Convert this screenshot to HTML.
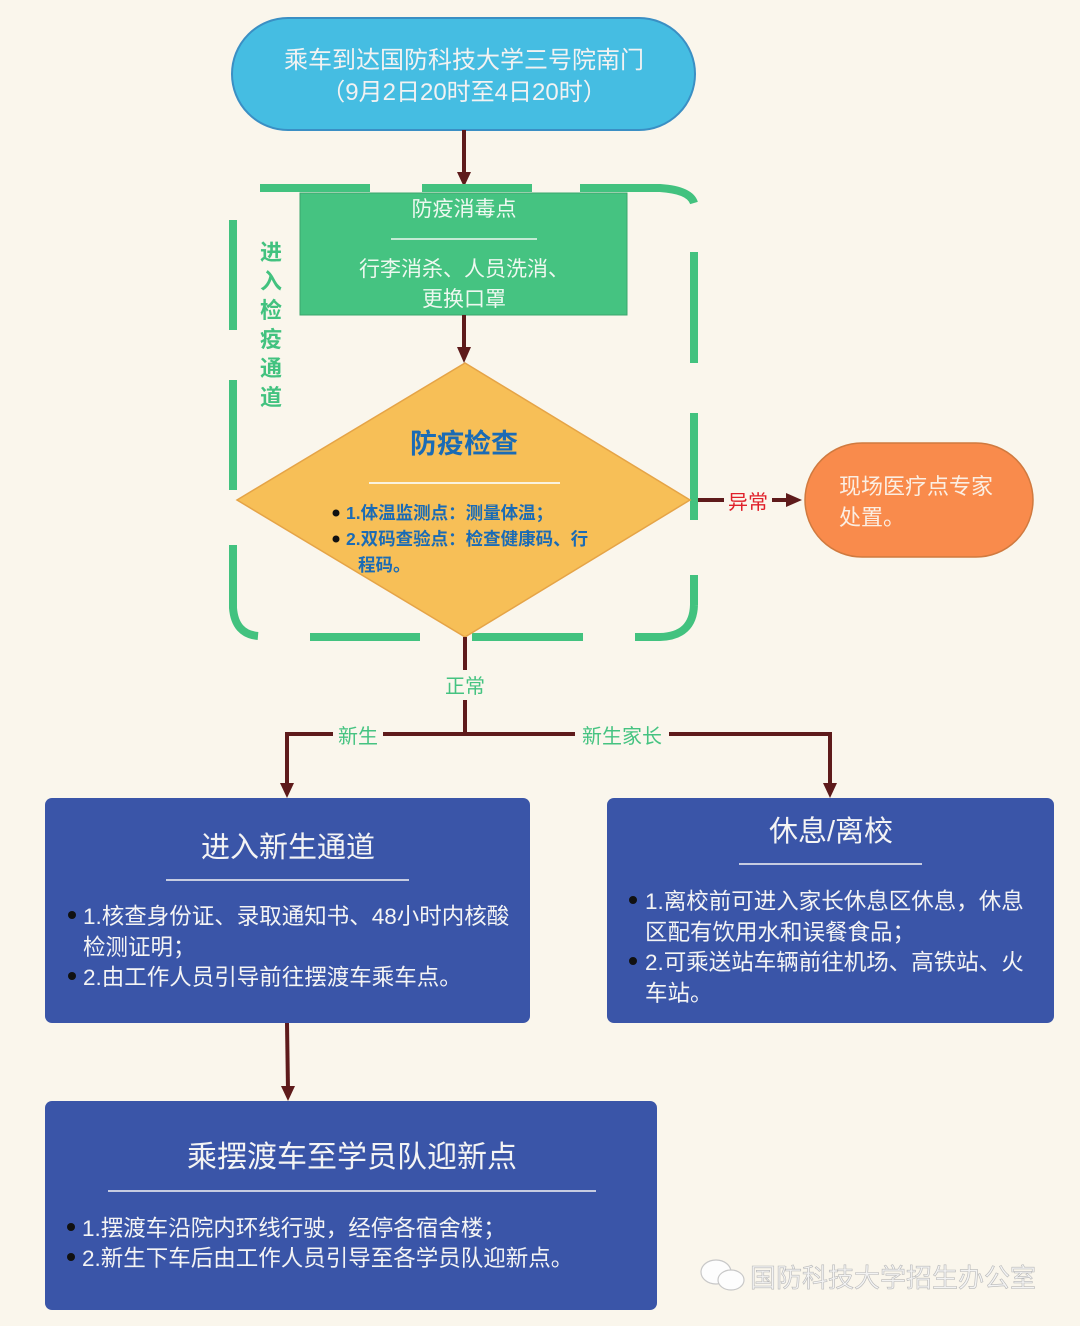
<!DOCTYPE html>
<html><head><meta charset="utf-8"><style>
html,body{margin:0;padding:0;background:#faf6ec;}
svg{display:block;}
text{font-family:"Liberation Sans","Noto Sans CJK SC",sans-serif;}
</style></head><body>
<svg width="1080" height="1326" viewBox="0 0 1080 1326" xmlns="http://www.w3.org/2000/svg">
<rect width="1080" height="1326" fill="#faf6ec"/>
<!-- top stadium -->
<rect x="232" y="18" width="463" height="112" rx="56" fill="#45bde2" stroke="#3a8fc4" stroke-width="2"/>
<text x="464" y="68" text-anchor="middle" font-size="24" fill="#f2f2f2">乘车到达国防科技大学三号院南门</text>
<text x="464" y="100" text-anchor="middle" font-size="24" fill="#f2f2f2">（9月2日20时至4日20时）</text>
<line x1="464" y1="130" x2="464" y2="176" stroke="#5e1b1b" stroke-width="4"/>
<path d="M457,172 L464,187 L471,172 Z" fill="#5e1b1b"/>
<!-- dashed boundary -->
<g stroke="#42c27f" stroke-width="8" fill="none">
<path d="M260,188 H370 M422,188 H532 M580,188 H660 Q690,190 694,203"/>
<path d="M233,220 V330 M233,380 V490 M233,545 V608 Q235,634 258,636"/>
<path d="M310,637 H420 M472,637 H583 M635,637 H660 Q693,636 694,605"/>
<path d="M694,252 V363 M694,413 V520 M694,575 V605"/>
</g>
<!-- green rect -->
<rect x="300" y="193" width="327" height="122" fill="#45c381" stroke="#3aa56d" stroke-width="1"/>
<text x="464" y="216" text-anchor="middle" font-size="21" fill="#eef8f0">防疫消毒点</text>
<line x1="391" y1="239" x2="537" y2="239" stroke="#eef8f0" stroke-width="1.5"/>
<text x="464" y="276" text-anchor="middle" font-size="21" fill="#eef8f0">行李消杀、人员洗消、</text>
<text x="464" y="306" text-anchor="middle" font-size="21" fill="#eef8f0">更换口罩</text>
<text font-size="22" fill="#42c27f" font-weight="bold" text-anchor="middle">
<tspan x="271" y="260">进</tspan><tspan x="271" y="289">入</tspan><tspan x="271" y="318">检</tspan><tspan x="271" y="347">疫</tspan><tspan x="271" y="376">通</tspan><tspan x="271" y="405">道</tspan></text>
<line x1="464" y1="315" x2="464" y2="350" stroke="#5e1b1b" stroke-width="4"/>
<path d="M457,347 L464,363 L471,347 Z" fill="#5e1b1b"/>
<!-- diamond -->
<polygon points="465,363 690,500 465,637 237,500" fill="#f7bf57" stroke="#e5a447" stroke-width="1.5"/>
<text x="464" y="453" text-anchor="middle" font-size="27" font-weight="bold" fill="#1a6bb5">防疫检查</text>
<line x1="369" y1="483" x2="560" y2="483" stroke="#faf3e0" stroke-width="2"/>
<g font-size="17.5" font-weight="bold" fill="#1a6bb5">
<circle cx="336" cy="513" r="3.5" fill="#111"/>
<text x="346" y="519">1.体温监测点：测量体温；</text>
<circle cx="336" cy="539" r="3.5" fill="#111"/>
<text x="346" y="545">2.双码查验点：检查健康码、行</text>
<text x="358" y="571">程码。</text>
</g>
<!-- abnormal -->
<line x1="698" y1="500" x2="790" y2="500" stroke="#5e1b1b" stroke-width="4"/>
<path d="M786,493 L802,500 L786,507 Z" fill="#5e1b1b"/>
<rect x="724" y="487" width="48" height="26" fill="#faf6ec"/>
<text x="748" y="509" text-anchor="middle" font-size="20" fill="#e0202a">异常</text>
<rect x="805" y="443" width="228" height="114" rx="57" fill="#f98b4c" stroke="#d07a3f" stroke-width="1.5"/>
<text x="839" y="494" font-size="22" fill="#fbeee2">现场医疗点专家</text>
<text x="839" y="525" font-size="22" fill="#fbeee2">处置。</text>
<!-- normal branch -->
<line x1="465" y1="637" x2="465" y2="734" stroke="#5e1b1b" stroke-width="4"/>
<rect x="440" y="670" width="50" height="30" fill="#faf6ec"/>
<text x="465" y="693" text-anchor="middle" font-size="20" fill="#45c381">正常</text>
<path d="M287,790 V734 H830 V790" stroke="#5e1b1b" stroke-width="4" fill="none"/>
<path d="M280,783 L287,798 L294,783 Z M823,783 L830,798 L837,783 Z" fill="#5e1b1b"/>
<rect x="333" y="722" width="50" height="26" fill="#faf6ec"/>
<text x="358" y="743" text-anchor="middle" font-size="20" fill="#45c381">新生</text>
<rect x="575" y="722" width="94" height="26" fill="#faf6ec"/>
<text x="622" y="743" text-anchor="middle" font-size="20" fill="#45c381">新生家长</text>
<!-- box1 -->
<rect x="45" y="798" width="485" height="225" rx="7" fill="#3a55a8"/>
<text x="288" y="857" text-anchor="middle" font-size="29" fill="#f4f4f4">进入新生通道</text>
<line x1="166" y1="880" x2="409" y2="880" stroke="#f4f4f4" stroke-width="1.5"/>
<g font-size="22.5" fill="#f4f4f4">
<circle cx="72" cy="915" r="4" fill="#111"/>
<text x="83" y="924">1.核查身份证、录取通知书、48小时内核酸</text>
<text x="83" y="955">检测证明；</text>
<circle cx="72" cy="976" r="4" fill="#111"/>
<text x="83" y="985">2.由工作人员引导前往摆渡车乘车点。</text>
</g>
<!-- box2 -->
<rect x="607" y="798" width="447" height="225" rx="7" fill="#3a55a8"/>
<text x="831" y="841" text-anchor="middle" font-size="29" fill="#f4f4f4">休息/离校</text>
<line x1="739" y1="864" x2="922" y2="864" stroke="#f4f4f4" stroke-width="1.5"/>
<g font-size="22.5" fill="#f4f4f4">
<circle cx="633" cy="900" r="4" fill="#111"/>
<text x="645" y="909">1.离校前可进入家长休息区休息，休息</text>
<text x="645" y="940">区配有饮用水和误餐食品；</text>
<circle cx="633" cy="961" r="4" fill="#111"/>
<text x="645" y="970">2.可乘送站车辆前往机场、高铁站、火</text>
<text x="645" y="1001">车站。</text>
</g>
<!-- arrow to box3 -->
<line x1="287" y1="1023" x2="288" y2="1090" stroke="#5e1b1b" stroke-width="4"/>
<path d="M281,1086 L288,1101 L295,1086 Z" fill="#5e1b1b"/>
<!-- box3 -->
<rect x="45" y="1101" width="612" height="209" rx="7" fill="#3a55a8"/>
<text x="352" y="1167" text-anchor="middle" font-size="30" fill="#f4f4f4">乘摆渡车至学员队迎新点</text>
<line x1="108" y1="1191" x2="596" y2="1191" stroke="#f4f4f4" stroke-width="1.5"/>
<g font-size="22.5" fill="#f4f4f4">
<circle cx="71" cy="1227" r="4" fill="#111"/>
<text x="82" y="1236">1.摆渡车沿院内环线行驶，经停各宿舍楼；</text>
<circle cx="71" cy="1257" r="4" fill="#111"/>
<text x="82" y="1266">2.新生下车后由工作人员引导至各学员队迎新点。</text>
</g>
<!-- watermark -->
<g fill="#fdfdfd" stroke="#c8c8c8" stroke-width="1.2">
<ellipse cx="716" cy="1272" rx="15" ry="12"/>
<ellipse cx="731" cy="1280" rx="13" ry="10"/>
</g>
<text x="750" y="1287" font-size="26" fill="#f3f3f3" stroke="#b8b8b8" stroke-width="0.6">国防科技大学招生办公室</text>
</svg>
</body></html>
